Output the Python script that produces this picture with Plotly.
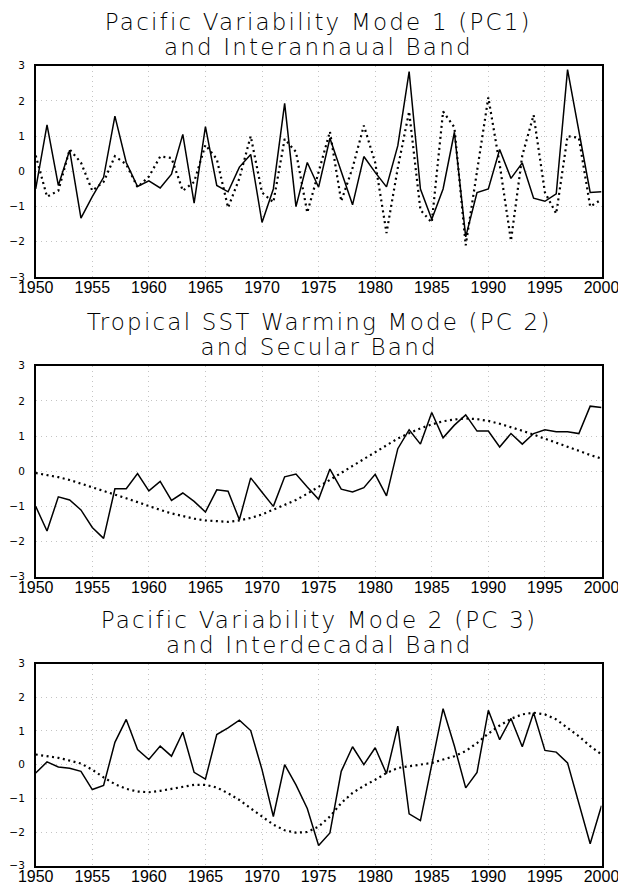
import plotly.graph_objects as go

years = list(range(1950, 2001))

pc1 = [-0.5, 1.32, -0.4, 0.6, -1.33, -0.72, -0.17, 1.57, 0.25, -0.43,
       -0.27, -0.47, -0.08, 1.05, -0.9, 1.27, -0.4, -0.58, 0.12, 0.48,
       -1.45, -0.5, 1.93, -1.0, 0.25, -0.45, 0.94, -0.03, -0.95, 0.42,
       -0.03, -0.44, 0.73, 2.83, -0.5, -1.36, -0.5, 1.11, -1.86, -0.6,
       -0.5, 0.62, -0.2, 0.24, -0.76, -0.85, -0.64, 2.89, 1.2, -0.6, -0.58]
band1 = [0.45, -0.72, -0.55, 0.62, 0.25, -0.55, -0.3, 0.43, 0.2, -0.45,
         -0.15, 0.42, 0.38, -0.55, -0.3, 0.75, 0.35, -1.03, -0.2, 1.0,
         -0.6, -0.88, 0.92, 0.55, -1.17, 0.0, 1.13, -0.85, 0.1, 1.3,
         0.25, -1.75, 0.1, 1.7, -1.1, -1.45, 1.7, 1.25, -2.1, 0.0,
         2.1, 0.2, -1.97, 0.45, 1.6, -0.6, -1.2, 1.0, 0.95, -1.0, -0.8]

pc2 = [-1.0, -1.7, -0.73, -0.82, -1.1, -1.6, -1.91, -0.5, -0.5, -0.07,
       -0.56, -0.29, -0.83, -0.62, -0.86, -1.16, -0.53, -0.57, -1.38, -0.19,
       -0.6, -1.0, -0.16, -0.08, -0.45, -0.8, 0.06, -0.51, -0.59, -0.47,
       -0.09, -0.7, 0.64, 1.18, 0.77, 1.67, 0.95, 1.31, 1.6, 1.14,
       1.14, 0.69, 1.07, 0.77, 1.07, 1.18, 1.12, 1.12, 1.07, 1.85, 1.81]
band2 = [-0.05, -0.1, -0.17, -0.25, -0.35, -0.45, -0.55, -0.65, -0.77, -0.88,
         -1.0, -1.1, -1.2, -1.28, -1.35, -1.4, -1.43, -1.44, -1.4, -1.33,
         -1.23, -1.1, -0.97, -0.82, -0.64, -0.45, -0.25, -0.05, 0.15, 0.35,
         0.55, 0.75, 0.93, 1.08, 1.22, 1.33, 1.42, 1.47, 1.5, 1.48,
         1.43, 1.35, 1.26, 1.15, 1.04, 0.93, 0.82, 0.7, 0.58, 0.46, 0.36]

pc3 = [-0.25, 0.08, -0.07, -0.11, -0.2, -0.74, -0.62, 0.66, 1.34, 0.45,
       0.15, 0.55, 0.25, 0.96, -0.23, -0.43, 0.89, 1.09, 1.32, 1.01,
       -0.15, -1.54, 0.0, -0.6, -1.3, -2.4, -2.03, -0.2, 0.53, 0.0,
       0.5, -0.27, 1.14, -1.46, -1.66, -0.05, 1.66, 0.55, -0.69, -0.23,
       1.61, 0.74, 1.37, 0.53, 1.54, 0.42, 0.37, 0.05, -1.14, -2.35, -1.22]
band3 = [0.3, 0.26, 0.2, 0.12, 0.03, -0.15, -0.38, -0.58, -0.72, -0.8,
         -0.82, -0.78, -0.72, -0.65, -0.6, -0.6, -0.68, -0.85, -1.05, -1.3,
         -1.55, -1.78, -1.95, -2.02, -2.0, -1.84, -1.54, -1.14, -0.84, -0.63,
         -0.45, -0.25, -0.1, -0.05, 0.0, 0.05, 0.15, 0.25, 0.4, 0.64,
         0.92, 1.16, 1.36, 1.49, 1.54, 1.49, 1.34, 1.09, 0.84, 0.55, 0.3]

titles = [("Pacific Variability Mode 1 (PC1)", "and Interannaual Band"),
          ("Tropical SST Warming Mode (PC 2)", "and Secular Band"),
          ("Pacific Variability Mode 2 (PC 3)", "and Interdecadal Band")]

x_ticks = [1950, 1955, 1960, 1965, 1970, 1975, 1980, 1985, 1990, 1995, 2000]
y_ticks = [-3, -2, -1, 0, 1, 2, 3]

W, H = 618, 884
# panel pixel boxes (top, bottom)
boxes = [(65.7, 277.0), (365.7, 576.7), (663.5, 865.7)]
title_px = [(22.3, 47.2), (322.0, 347.0), (619.5, 644.5)]
x0, x1 = 35.7 / W, 601.5 / W

fig = go.Figure()
series = [(pc1, band1), (pc2, band2), (pc3, band3)]
annotations = []
layout = {}
grid = dict(showgrid=True, gridcolor="#c4c4c4", griddash="1px,4px", gridwidth=1,
            showline=True, linecolor="black", linewidth=1.5, mirror=True,
            ticks="", ticklen=0, zeroline=False, automargin=False,
            ticklabeloverflow="allow")
for i, ((solid, dotted), (top, bot), (t1, t2), (ta, tb)) in enumerate(
        zip(series, boxes, title_px, titles)):
    n = "" if i == 0 else str(i + 1)
    xa, ya = "x" + n, "y" + n
    fig.add_trace(go.Scatter(x=years, y=dotted, mode="lines", xaxis=xa, yaxis=ya,
                             line=dict(color="black", width=2.2, dash="2px,3.5px"),
                             showlegend=False, hoverinfo="skip"))
    fig.add_trace(go.Scatter(x=years, y=solid, mode="lines", xaxis=xa, yaxis=ya,
                             line=dict(color="black", width=1.5),
                             showlegend=False, hoverinfo="skip"))
    layout["xaxis" + n] = dict(
        domain=[x0, x1], anchor=ya, range=[1950, 2000],
        tickvals=x_ticks, ticktext=[str(v) for v in x_ticks],
        ticklabelstandoff=-5,
        tickfont=dict(family="Liberation Sans Narrow, Liberation Sans", size=16,
                      color="black"), **grid)
    layout["yaxis" + n] = dict(
        domain=[1 - bot / H, 1 - top / H], anchor=xa, range=[-3, 3],
        tickvals=y_ticks, ticklabelstandoff=7,
        tickfont=dict(family="DejaVu Sans", size=10.5, color="black"), **grid)
    for txt, py in ((ta, t1), (tb, t2)):
        annotations.append(dict(text=txt, x=(x0 + x1) / 2, y=1 - py / H,
                                xref="paper", yref="paper", xanchor="center",
                                yanchor="middle", showarrow=False,
                                font=dict(family="DejaVu Sans", size=23, weight=300,
                                          color="black")))

fig.update_layout(template="none", width=W, height=H,
                  margin=dict(l=0, r=0, t=0, b=0, autoexpand=False),
                  paper_bgcolor="white", plot_bgcolor="white",
                  annotations=annotations, **layout)

spacing_js = """
function widenTitles(){
  document.querySelectorAll('.annotation-text').forEach(function(t){
    t.style.letterSpacing = '2.2px';
  });
}
widenTitles();
setTimeout(widenTitles, 30);
"""
fig.write_html("out.html", config={"displayModeBar": False},
               post_script="document.body.style.margin='0';" + spacing_js)
